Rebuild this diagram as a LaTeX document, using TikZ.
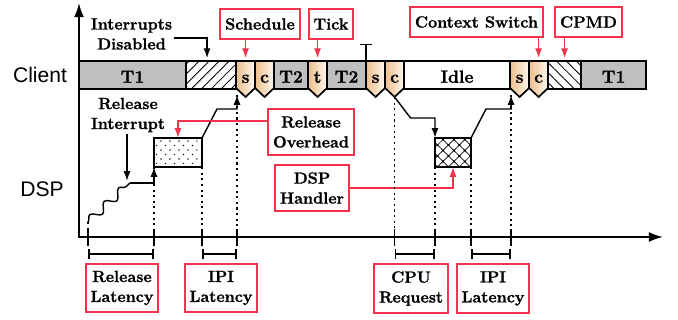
\documentclass[tikz,border=0pt]{standalone}
\usepackage{fontspec}
\setmainfont{Latin Modern Roman}[BoldFeatures={FakeBold=1.2}]
\newfontfamily\sanslbl{Liberation Sans}
\usetikzlibrary{arrows.meta, positioning, patterns.meta, decorations.pathmorphing}
\usepackage{xcolor}
\definecolor{barg}{RGB}{191,191,191}
\definecolor{tanc}{RGB}{238,190,140}
\definecolor{redc}{RGB}{245,50,75}
\newcommand\lblfnt{\fontsize{11.5}{14.2}\selectfont\bfseries}
\newcommand\barfnt{\fontsize{12.5}{14}\selectfont\bfseries}

\tikzset{
  pics/pent/.style={code={
    \path[draw, line width=1.2pt, left color=tanc, right color=tanc!12]
      (0,0) -- (19,0) -- (19,27) -- (9.5,36) -- (0,27) -- cycle;
    \node[font=\barfnt, inner sep=0pt, text height=11pt, text depth=0pt] (-txt) at (9.5,14) {#1};
    \coordinate (-top) at (9.5,0);
    \coordinate (-tip) at (9.5,36);
    \coordinate (-foot) at (1,34);
    \coordinate (-ne) at (19,0);
  }}
}

\begin{document}
\begin{tikzpicture}[x=0.025cm, y=-0.025cm,
    seg/.style={draw, line width=1.2pt, outer sep=0pt, inner sep=0pt,
                minimum height=0.7cm, text height=11pt, text depth=0pt,
                font=\barfnt, anchor=north west},
    lbl/.style={draw=redc, line width=1.3pt, fill=white, font=\lblfnt,
                align=center, inner xsep=3.5pt, inner ysep=5pt, minimum height=21.3pt},
    txt/.style={font=\lblfnt, align=center, inner sep=1pt},
    side/.style={font=\sanslbl\fontsize{15}{18}\selectfont},
    dspbox/.style={draw, line width=1.2pt, outer sep=0pt, minimum height=0.725cm},
    arr/.style={-{Latex[length=7pt,width=5pt]}, line width=1pt},
    redarr/.style={arr, draw=redc, shorten >=2pt},
    dotv/.style={line width=1pt, dash pattern=on 1.5pt off 2.5pt},
    tk/.style={line width=1.2pt},
    dim/.style={{Bar[width=7pt]}-{Bar[width=7pt]}, line width=1.2pt}
  ]
  \useasboundingbox (0,0) rectangle (678,320);

  \coordinate (org) at (79,237);
  \coordinate (ytop) at (79,3);
  \coordinate (xend) at (663,237);
  \coordinate (dimy) at (0,254);
  \draw[line width=1.3pt, {Latex[length=10pt,width=7pt]}-{Latex[length=10pt,width=7pt]}]
    (ytop) -- (org) -- (xend);

  \node[side] (client) at (40,74.5) {Client};
  \node[side] (dsp) at (42,189.5) {DSP};

  % client time line
  \node[seg, fill=barg, minimum width=2.675cm] (t1a) at (79,61) {T1};
  \node[seg, pattern={Lines[angle=45,distance=5pt,line width=0.6pt]},
        minimum width=1.25cm, right=0pt of t1a] (intoff) {};
  \pic (s1) at (intoff.north east) {pent=s};
  \pic (c1) at (s1-ne) {pent=c};
  \node[seg, fill=barg, minimum width=0.85cm] (t2a) at (c1-ne) {T2};
  \pic (tk) at (t2a.north east) {pent=t};
  \node[seg, fill=barg, minimum width=0.975cm] (t2b) at (tk-ne) {T2};
  \pic (s2) at (t2b.north east) {pent=s};
  \pic (c2) at (s2-ne) {pent=c};
  \node[seg, fill=white, minimum width=2.65cm] (idle) at (c2-ne) {Idle};
  \pic (s3) at (idle.north east) {pent=s};
  \pic (c3) at (s3-ne) {pent=c};
  \node[seg, pattern={Lines[angle=-45,distance=5pt,line width=0.6pt]},
        minimum width=0.825cm] (cpmd) at (c3-ne) {};
  \node[seg, fill=barg, minimum width=1.625cm] (t1b) at (cpmd.north east) {T1};
  \draw[line width=1pt, -{Bar[width=8pt]}] (t2b.north east) -- ++(0,-17);

  % dsp work
  \node[dspbox, minimum width=1.2cm,
        pattern={Dots[angle=45,distance=4.5pt,radius=0.6pt]}] (relbox) at (178,152.5) {};
  \node[dspbox, minimum width=0.9cm,
        preaction={pattern={Hatch[angle=45,distance=5.5pt,line width=0.5pt]}},
        pattern={Dots[angle=45,distance=5.5pt,radius=0.9pt]}] (dspbox) at (453,152.5) {};

  \node[lbl] (sched) at (260,24) {Schedule};
  \node[lbl] (tick) at (331,24) {Tick};
  \node[lbl] (ctxsw) at (476.5,22) {Context Switch};
  \node[lbl] (cpmdl) at (588.5,22) {CPMD};
  \node[lbl] (relov) at (311,132) {Release\\Overhead};
  \node[lbl] (dsph) at (312,188) {DSP\\Handler};
  \node[lbl] (rlat) at (122,288) {Release\\Latency};
  \node[lbl] (ipi1) at (221,288) {IPI\\Latency};
  \node[lbl] (cpureq) at (411,288.5) {CPU\\Request};
  \node[lbl] (ipi2) at (493,288.5) {IPI\\Latency};

  \node[txt] (intdis) at (131.5,34) {Interrupts\\Disabled};
  \node[txt] (relint) at (128,115) {Release\\Interrupt};

  \coordinate (wv0) at (88,222);
  \coordinate (wv1) at (130,183);
  \coordinate (wvhit) at (127,181);

  \draw[arr, shorten >=2pt] ([yshift=-0.1cm]intdis.east) -| ([xshift=-0.1cm]intoff.north);
  \draw[redarr] (sched.south -| s1-top) -- (s1-top);
  \draw[redarr] (tick.south -| tk-top) -- (tk-top);
  \draw[redarr] (ctxsw.south -| c3-top) -- (c3-top);
  \draw[redarr] (cpmdl.south -| cpmd.north) -- (cpmd.north);

  \draw[arr] (relint.south -| wvhit) -- (wvhit);
  \draw[line width=1pt, decorate, decoration={snake, amplitude=3pt, segment length=14pt}]
    (wv0) -- (wv1);
  \draw[arr] (wv1) -| (relbox.south west);
  \draw[arr] (relbox.north east) -- ++(15,-29) -| (s1-foot);
  \draw[arr] (c2-tip) -- ++(16,21) -| (dspbox.north west);
  \draw[arr] (dspbox.north east) -- ++(15,-29) -| (s3-foot);

  \draw[redarr, shorten >=0pt] ([yshift=0.275cm]relov.west) -| (relbox.north);
  \draw[redarr, shorten >=0pt] (dsph.east) -| (dspbox.south);

  \foreach \p in {wv0, relbox.south west, relbox.south east, s1-foot,
                  c2-tip, dspbox.south west, dspbox.south east, s3-foot} {
    \draw[dotv] (\p) -- (\p |- org);
    \draw[tk] (\p |- org) ++(0,-8) -- ++(0,17);
  }

  \draw[dim] (wv0 |- dimy) -- (relbox.south west |- dimy);
  \draw[dim] (relbox.south east |- dimy) -- (s1-foot |- dimy);
  \draw[dim] (c2-tip |- dimy) -- (dspbox.south west |- dimy);
  \draw[dim] (dspbox.south east |- dimy) -- (s3-foot |- dimy);
\end{tikzpicture}
\end{document}
